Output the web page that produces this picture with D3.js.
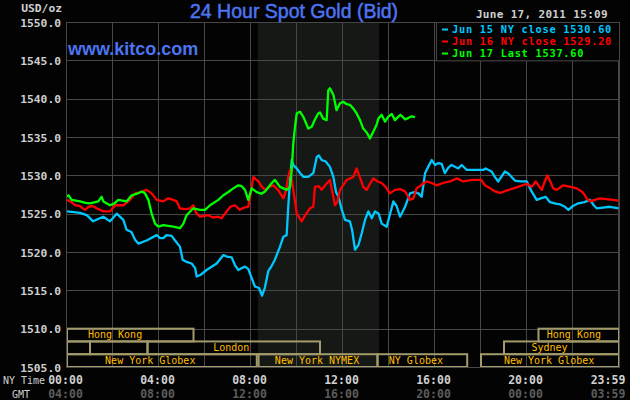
<!DOCTYPE html>
<html><head><meta charset="utf-8">
<script src="https://cdn.jsdelivr.net/npm/d3@7/dist/d3.min.js"></script>
<style>
html,body{margin:0;padding:0;background:#000;}
svg{display:block;}
</style></head><body>
<svg id="c" width="630" height="400"></svg>
<script>
// ---------------- data (hours NY time, USD/oz) ----------------
const jun15T = [0,0.3,0.57,0.86,1.14,1.35,1.58,1.87,2.16,2.45,2.59,2.8,2.96,3.1,3.46,3.9,4.05,4.19,4.33,4.55,4.7,4.91,5.03,5.2,5.42,5.57,5.64,5.8,6.07,6.3,6.51,6.8,6.95,7.16,7.3,7.45,7.6,7.74,7.88,8.03,8.17,8.35,8.48,8.6,8.75,8.9,9.04,9.26,9.41,9.55,9.62,9.7,9.77,9.85,9.99,10.13,10.28,10.49,10.71,10.86,10.95,11.07,11.25,11.43,11.58,11.7,11.8,11.95,12.09,12.3,12.4,12.52,12.67,12.82,12.96,13.1,13.25,13.39,13.55,13.68,13.9,14.05,14.19,14.33,14.48,14.7,14.91,15.1,15.28,15.42,15.57,15.72,15.86,16,16.15,16.29,16.43,16.58,16.72,17.01,17.16,17.38,17.7,18.1,18.2,18.46,18.6,18.75,19.04,19.2,19.48,19.7,19.99,20.2,20.42,20.6,20.81,21,21.25,21.45,21.65,21.8,22,22.23,22.5,22.74,22.9,23.03,23.3,23.61,23.98];
const jun15V = [1525.3,1525.2,1525.1,1524.8,1524.0,1524.3,1524.6,1524.0,1525.0,1524.2,1522.9,1522.6,1521.6,1521.1,1521.5,1522.2,1521.8,1521.8,1522.2,1522.1,1521.5,1520.7,1519.0,1518.7,1518.5,1517.9,1516.8,1517.0,1517.65,1518.1,1518.5,1519.6,1519.4,1519.3,1518.3,1517.65,1517.9,1518.1,1517.8,1516.6,1515.5,1515.3,1514.3,1515.3,1517.5,1518.2,1519.0,1520.7,1522.0,1522.2,1525.9,1529.5,1532.0,1531.3,1530.9,1530.3,1529.8,1529.8,1530.3,1532.4,1532.6,1532.0,1531.8,1531.1,1529.8,1527.8,1527.2,1525.5,1524.2,1524.0,1522.8,1520.3,1520.9,1522.5,1524.2,1525.3,1524.4,1525.3,1525.0,1523.7,1523.3,1525.0,1526.6,1526.0,1524.6,1525.9,1527.65,1527.8,1527.65,1527.2,1530.3,1531.2,1532.0,1531.35,1531.6,1531.5,1530.3,1531.0,1531.35,1530.9,1531.35,1530.7,1530.7,1530.7,1530.9,1530.5,1529.8,1529.2,1530.5,1530.2,1529.3,1529.2,1529.2,1527.9,1526.8,1527.0,1527.2,1526.5,1526.3,1526.2,1525.9,1525.5,1526.0,1526.35,1526.5,1526.8,1526.1,1525.7,1525.8,1525.9,1525.7];

const jun16T = [0,0.2,0.35,0.55,0.78,0.93,1.1,1.29,1.58,1.87,2.09,2.45,2.74,2.96,3.2,3.46,3.68,3.9,4.19,4.4,4.62,4.77,4.91,5.15,5.35,5.49,5.6,5.78,6.14,6.35,6.58,6.72,6.94,7.1,7.3,7.52,7.7,7.88,7.96,8.1,8.2,8.32,8.45,8.62,8.8,8.97,9.2,9.41,9.52,9.62,9.7,9.84,9.99,10.2,10.4,10.57,10.71,10.78,10.95,11.07,11.25,11.43,11.58,11.65,11.75,11.87,12.16,12.45,12.59,12.75,12.88,13.03,13.17,13.32,13.5,13.68,13.85,14.04,14.26,14.48,14.7,14.82,14.91,15.06,15.2,15.35,15.49,15.64,15.85,16.07,16.35,16.65,16.94,17.23,17.6,18.01,18.17,18.4,18.61,18.83,19.1,19.41,19.7,19.99,20.2,20.38,20.52,20.64,20.75,20.88,21,21.14,21.29,21.58,21.9,22.16,22.38,22.5,22.59,22.74,22.95,23.17,23.45,23.75,23.97];
const jun16V = [1526.8,1526.5,1526.1,1526.0,1525.5,1525.9,1526.0,1525.7,1525.3,1525.3,1526.1,1526.1,1526.8,1527.65,1527.8,1528.1,1527.65,1526.8,1526.6,1527.0,1526.8,1526.6,1525.7,1525.6,1525.7,1526.1,1525.2,1524.6,1524.8,1524.5,1524.6,1524.4,1525.3,1525.9,1526.1,1525.5,1525.8,1525.9,1527.2,1529.8,1529.5,1529.2,1528.6,1528.1,1528.5,1528.7,1528.0,1527.0,1528.0,1529.8,1530.7,1528.1,1525.0,1524.0,1525.0,1525.7,1525.9,1528.5,1528.6,1528.1,1528.8,1529.4,1527.2,1526.1,1526.5,1528.1,1529.4,1529.8,1530.9,1529.6,1528.5,1528.1,1528.9,1529.6,1529.2,1529.0,1528.5,1527.65,1528.1,1528.2,1527.9,1527.3,1526.8,1527.0,1528.3,1528.6,1528.96,1529.2,1529.0,1528.7,1529.0,1529.2,1529.6,1529.2,1529.4,1529.4,1528.7,1528.3,1527.9,1527.7,1528.0,1528.3,1528.6,1528.9,1528.5,1529.2,1528.6,1528.1,1529.0,1530.0,1529.3,1528.3,1528.1,1528.7,1528.5,1528.3,1527.9,1527.5,1527.0,1526.6,1526.8,1527.0,1526.9,1526.8,1526.7];

const jun17T = [0,0.06,0.2,0.57,0.8,1,1.36,1.51,1.58,1.87,2.05,2.23,2.59,2.81,3.05,3.25,3.39,3.54,3.68,3.83,3.97,4.19,4.4,4.62,4.91,5.06,5.2,5.49,5.78,6,6.22,6.58,6.8,7,7.23,7.45,7.59,7.74,7.88,8.03,8.25,8.45,8.61,8.9,9.04,9.26,9.55,9.7,9.77,9.84,9.92,9.99,10.13,10.28,10.42,10.49,10.64,10.8,10.93,11,11.14,11.29,11.36,11.43,11.58,11.72,11.87,12.01,12.15,12.3,12.45,12.59,12.74,12.88,13.03,13.17,13.32,13.46,13.54,13.68,13.83,13.97,14.12,14.26,14.41,14.5,14.7,14.85,14.99,15.13];
const jun17V = [1527.2,1527.4,1526.8,1526.6,1526.4,1526.35,1526.6,1527.2,1526.6,1526.1,1526.3,1526.8,1526.6,1527.4,1527.6,1527.9,1527.65,1526.8,1525.0,1523.7,1523.3,1523.5,1523.4,1523.3,1523.1,1523.7,1524.8,1525.7,1525.5,1525.5,1526.1,1526.8,1527.4,1527.8,1528.3,1528.7,1528.6,1528.1,1526.8,1528.3,1527.8,1527.6,1527.9,1529.0,1529.4,1528.5,1528.1,1528.5,1530.7,1534.2,1536.5,1538.1,1538.3,1537.6,1536.6,1536.1,1536.35,1537.4,1538.1,1538.2,1537.4,1537.2,1541.1,1541.35,1540.5,1538.5,1539.4,1539.6,1539.3,1539.2,1538.7,1538.1,1537.2,1536.1,1535.6,1534.8,1535.7,1536.6,1537.4,1537.9,1537.0,1537.65,1538.0,1537.2,1537.65,1537.9,1537.3,1537.5,1537.7,1537.6];

const seriesNames = ["Jun 15 NY close 1530.60", "Jun 16 NY close 1529.20", "Jun 17 Last 1537.60"];
const seriesColors = ["#00c8ff", "#ff0000", "#00ff00"];

const yTicks = [1505,1510,1515,1520,1525,1530,1535,1540,1545,1550];
const gridHours = [0,2,4,6,8,10,12,14,16,18,20,22,24];
const xTickHours = [0,4,8,12,16,20,23.983];
const nyLabels = ["00:00","04:00","08:00","12:00","16:00","20:00","23:59"];
const gmtLabels = ["04:00","08:00","12:00","16:00","20:00","00:00","03:59"];

// trading sessions: row, start hour, end hour, label, label centre hour
const sessRow   = [0,0,1,1,1,1,2,2,2,2];
const sessStart = [0,20.5,0,1,3.5,19,0,8.33,13.5,18];
const sessEnd   = [5.5,24,1,3.5,11,24,8.25,13.5,17.4,24];
const sessLabel = ["Hong Kong","Hong Kong","","","London","Sydney","New York Globex","New York NYMEX","NY Globex","New York Globex"];
const sessLabelAt = [2.09,22.04,0,0,7.14,20.98,3.62,10.87,15.17,20.96];
const pitStart = 8.3, pitEnd = 13.57;

const titleText = "24 Hour Spot Gold (Bid)";
const dateText = "June 17, 2011 15:09";

// ---------------- drawing ----------------
const svg = d3.select("#c");
const W = 630, H = 400;
const pL = 67, pR = 619, pT = 22, pB = 367;
const x = d3.scaleLinear().domain([0,24]).range([pL,pR]);
const y = d3.scaleLinear().domain([1505,1550]).range([pB,pT]);
const mono = "'DejaVu Sans Mono', 'Liberation Mono', monospace";
const blue = "#4d74f2";

svg.append("rect").attr("width",W).attr("height",H).attr("fill","#030303");

// pit session shading
svg.append("rect").attr("x",x(pitStart)).attr("y",pT)
  .attr("width",x(pitEnd)-x(pitStart)).attr("height",pB-pT).attr("fill","#151815");

// grid
const gridColor = "#474747";
svg.append("g").selectAll("line").data(yTicks).join("line")
  .attr("x1",pL).attr("x2",pR).attr("y1",d=>Math.round(y(d))+0.5).attr("y2",d=>Math.round(y(d))+0.5)
  .attr("stroke",gridColor).attr("stroke-width",1);
svg.append("g").selectAll("line").data(gridHours).join("line")
  .attr("y1",pT).attr("y2",pB).attr("x1",d=>Math.round(x(d))-0.5).attr("x2",d=>Math.round(x(d))-0.5)
  .attr("stroke",gridColor).attr("stroke-width",1);

// sessions
const rowH = (y(1505)-y(1510))/3;
const sessions = sessRow.map((r,i)=>({r, s:sessStart[i], e:sessEnd[i], label:sessLabel[i], at:sessLabelAt[i]}));
const boxColor = "#a39b6b";
const sg = svg.append("g");
sg.selectAll("rect").data(sessions).join("rect")
  .attr("x",d=>x(d.s)).attr("y",d=>y(1510)+d.r*rowH)
  .attr("width",d=>x(d.e)-x(d.s)).attr("height",rowH)
  .attr("fill","none").attr("stroke",boxColor).attr("stroke-width",2);
sg.selectAll("text").data(sessions.filter(d=>d.label)).join("text")
  .attr("x",d=>x(d.at)).attr("y",d=>y(1510)+d.r*rowH+9.8)
  .attr("text-anchor","middle").attr("font-family",mono).attr("font-size","10px")
  .attr("fill","#ffbf00").text(d=>d.label);

// series lines
const series = [
  {t:jun15T, v:jun15V, c:seriesColors[0]},
  {t:jun16T, v:jun16V, c:seriesColors[1]},
  {t:jun17T, v:jun17V, c:seriesColors[2]}
];
const line = d3.line().x(d=>x(d[0])).y(d=>y(d[1]));
svg.append("g").selectAll("path").data(series).join("path")
  .attr("d",s=>line(s.t.map((t,i)=>[t,s.v[i]])))
  .attr("fill","none").attr("stroke",s=>s.c).attr("stroke-width",2.3)
  .attr("stroke-linejoin","round");

// plot border
svg.append("rect").attr("x",pL-0.5).attr("y",pT+0.5).attr("width",pR-pL+1).attr("height",pB-pT)
  .attr("fill","none").attr("stroke",gridColor).attr("stroke-width",1);

// y axis
const yAxis = d3.axisLeft(y).tickValues(yTicks).tickSize(0).tickPadding(6).tickFormat(d3.format(".1f"));
const ga = svg.append("g").attr("transform",`translate(${pL},0)`).call(yAxis);
ga.select(".domain").remove();
ga.selectAll("text").attr("font-family",mono).attr("font-size","11.3px").attr("font-weight","bold")
  .attr("fill","#cfcfcf").attr("dy","0.36em");
svg.append("text").attr("x",62).attr("y",11.5).attr("text-anchor","end")
  .attr("font-family",mono).attr("font-size","11.3px").attr("font-weight","bold").attr("fill","#cfcfcf").text("USD/oz");

// x labels
const xl = svg.append("g");
xl.selectAll("text.ny").data(xTickHours).join("text").attr("class","ny")
  .attr("x",d=>Math.min(x(d)-1.5,608)).attr("y",384).attr("text-anchor","middle")
  .attr("font-family",mono).attr("font-size","11.5px").attr("font-weight","bold").attr("fill","#cfcfcf")
  .text((d,i)=>nyLabels[i]);
xl.selectAll("text.gmt").data(xTickHours).join("text").attr("class","gmt")
  .attr("x",d=>Math.min(x(d)-1.5,608)).attr("y",398).attr("text-anchor","middle")
  .attr("font-family",mono).attr("font-size","11.5px").attr("font-weight","bold").attr("fill","#5c5c5c")
  .text((d,i)=>gmtLabels[i]);
svg.append("text").attr("x",3).attr("y",383.5).attr("font-family",mono).attr("font-size","10px")
  .attr("fill","#cfcfcf").text("NY Time");
svg.append("text").attr("x",12).attr("y",397.5).attr("font-family",mono).attr("font-size","10px")
  .attr("fill","#cfcfcf").text("GMT");

// title, site, date
svg.append("text").attr("x",190).attr("y",17.5).attr("font-family","'Liberation Sans', Arial, sans-serif")
  .attr("font-size","19.5px").attr("fill",blue).attr("stroke",blue).attr("stroke-width",0.5).text(titleText);
svg.append("text").attr("x",68).attr("y",55).attr("font-family","'Liberation Sans', Arial, sans-serif")
  .attr("font-size","18px").attr("font-weight","bold").attr("fill",blue).text("www.kitco.com");
svg.append("text").attr("x",608).attr("y",18).attr("text-anchor","end").attr("font-family",mono)
  .attr("font-size","11px").attr("font-weight","bold").attr("letter-spacing","0.33px")
  .attr("fill","#cfcfcf").text(dateText);

// legend
const lg = svg.append("g");
lg.append("rect").attr("x",436.5).attr("y",pT+0.5).attr("width",pR-436).attr("height",y(1545)-pT)
  .attr("fill","#030303").attr("stroke",gridColor).attr("stroke-width",1);
seriesNames.forEach((n,i)=>{
  const cy = 29.5 + i*12;
  lg.append("line").attr("x1",442).attr("x2",448).attr("y1",cy).attr("y2",cy)
    .attr("stroke",seriesColors[i]).attr("stroke-width",2);
  lg.append("text").attr("x",452).attr("y",cy+3.8).attr("font-family",mono).attr("font-size","10.3px")
    .attr("letter-spacing","0.76px")
    .attr("font-weight","bold").attr("fill",seriesColors[i]).text(n);
});
</script>
</body></html>
